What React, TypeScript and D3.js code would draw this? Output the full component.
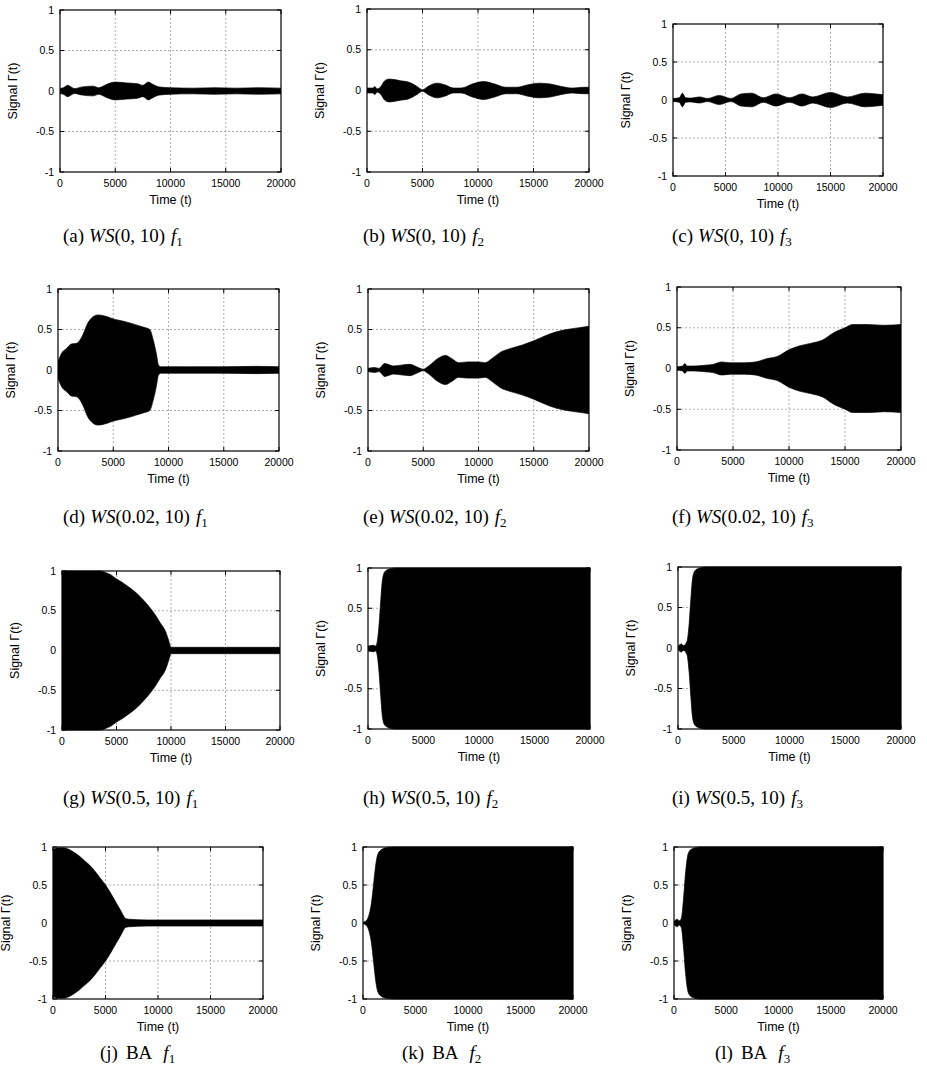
import React from 'react';
import * as d3 from 'd3';

// axis ticks shared by every panel
const TIME_TICKS = [0, 5000, 10000, 15000, 20000];
const SIGNAL_TICKS = [-1, -0.5, 0, 0.5, 1];
const GRID_TIMES = [5000, 10000, 15000];
const GRID_SIGNALS = [-0.5, 0, 0.5];

// envelope of the oscillating signal: [time, amplitude]
const envA = [[0, 0.03], [300, 0.04], [700, 0.07], [1000, 0.05], [1300, 0.03], [2000, 0.05], [3000, 0.06], [3500, 0.04], [4200, 0.08], [5000, 0.11], [6000, 0.1], [7000, 0.09], [7500, 0.07], [8000, 0.11], [8300, 0.09], [9000, 0.05], [10000, 0.04], [12000, 0.035], [14000, 0.04], [16000, 0.035], [18000, 0.04], [20000, 0.035]];
const envB = [[0, 0.03], [500, 0.03], [700, 0.05], [900, 0.02], [1200, 0.04], [1600, 0.12], [2000, 0.14], [3000, 0.12], [3800, 0.1], [4500, 0.05], [5000, 0.01], [5500, 0.05], [6300, 0.09], [7000, 0.07], [7800, 0.03], [8500, 0.03], [9500, 0.08], [10500, 0.11], [11500, 0.08], [12500, 0.04], [13500, 0.04], [14500, 0.07], [15500, 0.09], [16500, 0.08], [17500, 0.05], [18500, 0.03], [19500, 0.04], [20000, 0.04]];
const envC = [[0, 0.02], [600, 0.03], [900, 0.09], [1200, 0.03], [1700, 0.025], [2500, 0.04], [3300, 0.02], [4400, 0.06], [5500, 0.02], [6500, 0.08], [7500, 0.09], [8600, 0.03], [9800, 0.08], [11100, 0.03], [12300, 0.08], [13300, 0.04], [15000, 0.1], [16600, 0.04], [18300, 0.09], [19300, 0.08], [20000, 0.07]];
const envD = [[0, 0.1], [300, 0.2], [800, 0.27], [1200, 0.32], [1700, 0.33], [2200, 0.42], [2700, 0.58], [3200, 0.66], [3600, 0.68], [4400, 0.66], [5000, 0.63], [6000, 0.6], [7000, 0.56], [7700, 0.53], [8300, 0.5], [8600, 0.38], [8900, 0.2], [9100, 0.06], [9300, 0.04], [12000, 0.04], [15000, 0.04], [18000, 0.045], [20000, 0.04]];
const envE = [[0, 0.02], [600, 0.03], [1000, 0.02], [1500, 0.08], [1800, 0.07], [2300, 0.05], [3000, 0.06], [3800, 0.07], [4400, 0.04], [5000, 0.01], [5500, 0.05], [6300, 0.14], [7000, 0.18], [7600, 0.14], [8200, 0.09], [9000, 0.1], [10000, 0.1], [10600, 0.09], [11200, 0.14], [12000, 0.22], [13000, 0.27], [14000, 0.31], [15000, 0.36], [16000, 0.42], [17000, 0.47], [18000, 0.5], [19000, 0.52], [20000, 0.54]];
const envF = [[0, 0.02], [500, 0.03], [700, 0.06], [900, 0.03], [1500, 0.03], [2500, 0.04], [3200, 0.05], [4000, 0.08], [4800, 0.07], [6000, 0.07], [7000, 0.08], [8000, 0.12], [9000, 0.15], [10000, 0.23], [11000, 0.28], [12000, 0.31], [13000, 0.35], [14000, 0.44], [15000, 0.5], [15700, 0.54], [17000, 0.54], [18500, 0.53], [20000, 0.54]];
const envG = [[0, 1], [3500, 1], [4000, 0.98], [4500, 0.95], [5000, 0.9], [5500, 0.86], [6000, 0.81], [6500, 0.76], [7000, 0.7], [7500, 0.63], [8000, 0.55], [8500, 0.46], [9000, 0.35], [9500, 0.24], [9800, 0.12], [10000, 0.04], [12000, 0.04], [15000, 0.04], [18000, 0.04], [20000, 0.04]];
const envH = [[0, 0.03], [500, 0.04], [700, 0.03], [850, 0.1], [1000, 0.3], [1150, 0.6], [1300, 0.85], [1500, 0.95], [1800, 0.98], [2500, 1], [20000, 1]];
const envI = [[0, 0.02], [300, 0.05], [500, 0.03], [800, 0.08], [1000, 0.3], [1150, 0.6], [1300, 0.85], [1500, 0.95], [1800, 0.98], [2500, 1], [20000, 1]];
const envJ = [[0, 0.97], [500, 0.99], [1000, 0.99], [1500, 0.97], [2000, 0.93], [2500, 0.88], [3000, 0.82], [3500, 0.76], [4000, 0.68], [4500, 0.59], [5000, 0.5], [5500, 0.39], [6000, 0.27], [6500, 0.15], [6900, 0.06], [7200, 0.05], [9000, 0.04], [12000, 0.04], [15000, 0.04], [18000, 0.04], [20000, 0.04]];
const envK = [[0, 0.01], [300, 0.03], [600, 0.12], [800, 0.26], [1000, 0.5], [1200, 0.75], [1400, 0.9], [1700, 0.96], [2200, 0.99], [3000, 1], [20000, 1]];
const envL = [[0, 0.02], [300, 0.05], [500, 0.03], [700, 0.06], [900, 0.3], [1100, 0.65], [1300, 0.88], [1500, 0.95], [1800, 0.98], [2500, 1], [20000, 1]];

// caption parts
const PANEL_IDS = ['a', 'b', 'c', 'd', 'e', 'f', 'g', 'h', 'i', 'j', 'k', 'l'];
const MODELS = ['WS', 'WS', 'WS', 'WS', 'WS', 'WS', 'WS', 'WS', 'WS', 'BA', 'BA', 'BA'];
const MODEL_PARAMS = ['(0, 10)', '(0, 10)', '(0, 10)', '(0.02, 10)', '(0.02, 10)', '(0.02, 10)', '(0.5, 10)', '(0.5, 10)', '(0.5, 10)', '', '', ''];
const FUNCTION_IDX = ['1', '2', '3', '1', '2', '3', '1', '2', '3', '1', '2', '3'];

const envelopes = [envA, envB, envC, envD, envE, envF, envG, envH, envI, envJ, envK, envL];

// plot frames [left, top, width, height]
const frames = [
  [60, 10, 221, 162], [367, 9, 222, 163], [673, 24, 210, 152],
  [58, 289, 221, 162], [368, 289, 221, 162], [677, 287, 224, 163],
  [62, 571, 218, 159], [368, 568, 222, 161], [678, 567, 223, 162],
  [53, 847, 210, 152], [363, 847, 210, 152], [674, 847, 209, 152],
];
// caption start x per panel, baseline per row
const captionX = [63, 363, 672, 63, 363, 672, 63, 363, 672, 100, 402, 715];
const captionY = [242, 523, 804, 1059];

const sans = 'Liberation Sans, Arial, sans-serif';
const serif = 'Liberation Serif, Times New Roman, serif';

function Panel({ idx }) {
  const [left, top, w, h] = frames[idx];
  const x = d3.scaleLinear().domain([0, 20000]).range([left, left + w]);
  const y = d3.scaleLinear().domain([-1, 1]).range([top + h, top]);
  const area = d3.area()
    .x(d => x(d[0]))
    .y0(d => y(-d[1]))
    .y1(d => y(d[1]))
    .curve(d3.curveMonotoneX);
  const clipId = `clip-${idx}`;
  const tl = 4;
  const isWS = MODELS[idx] === 'WS';
  return (
    <g>
      <defs>
        <clipPath id={clipId}>
          <rect x={left} y={top - 1} width={w} height={h + 2} />
        </clipPath>
      </defs>
      {GRID_TIMES.map(t => (
        <line key={'gx' + t} x1={x(t)} x2={x(t)} y1={top} y2={top + h}
          stroke="#999" strokeWidth={0.8} strokeDasharray="2,2" />
      ))}
      {GRID_SIGNALS.map(s => (
        <line key={'gy' + s} x1={left} x2={left + w} y1={y(s)} y2={y(s)}
          stroke="#999" strokeWidth={0.8} strokeDasharray="2,2" />
      ))}
      <path d={area(envelopes[idx])} fill="#000" stroke="#000" strokeWidth={0.7}
        clipPath={`url(#${clipId})`} />
      <rect x={left} y={top} width={w} height={h} fill="none" stroke="#000" strokeWidth={1.2} />
      {TIME_TICKS.map(t => (
        <g key={'tx' + t}>
          <line x1={x(t)} x2={x(t)} y1={top + h} y2={top + h - tl} stroke="#000" />
          <line x1={x(t)} x2={x(t)} y1={top} y2={top + tl} stroke="#000" />
          <text x={x(t)} y={top + h + 15} textAnchor="middle" fontFamily={sans} fontSize={10.5}>{t}</text>
        </g>
      ))}
      {SIGNAL_TICKS.map(s => (
        <g key={'ty' + s}>
          <line x1={left} x2={left + tl} y1={y(s)} y2={y(s)} stroke="#000" />
          <line x1={left + w} x2={left + w - tl} y1={y(s)} y2={y(s)} stroke="#000" />
          <text x={left - 6} y={y(s) + 3.7} textAnchor="end" fontFamily={sans} fontSize={10.5}>{s}</text>
        </g>
      ))}
      <text x={left + w / 2} y={top + h + 32} textAnchor="middle" fontFamily={sans} fontSize={12.5}>Time (t)</text>
      <text transform={`translate(${left - 43},${top + h / 2}) rotate(-90)`} textAnchor="middle"
        fontFamily={sans} fontSize={12.5}>Signal Γ(t)</text>
      <text x={captionX[idx]} y={captionY[Math.floor(idx / 3)]} textAnchor="start"
        fontFamily={serif} fontSize={19}>
        <tspan>({PANEL_IDS[idx]})</tspan>
        {isWS ? (
          <>
            <tspan dx={5} fontStyle="italic">WS</tspan>
            <tspan>{MODEL_PARAMS[idx]}</tspan>
          </>
        ) : (
          <tspan dx={8}>BA</tspan>
        )}
        <tspan dx={isWS ? 6 : 11} fontStyle="italic">f</tspan>
        <tspan fontSize={13} dy={4}>{FUNCTION_IDX[idx]}</tspan>
      </text>
    </g>
  );
}

export default function App() {
  return (
    <svg width={927} height={1075} style={{ position: 'absolute', left: 0, top: 0, background: '#fff' }}>
      <rect width={927} height={1075} fill="#fff" />
      {PANEL_IDS.map((id, i) => <Panel key={id} idx={i} />)}
    </svg>
  );
}
